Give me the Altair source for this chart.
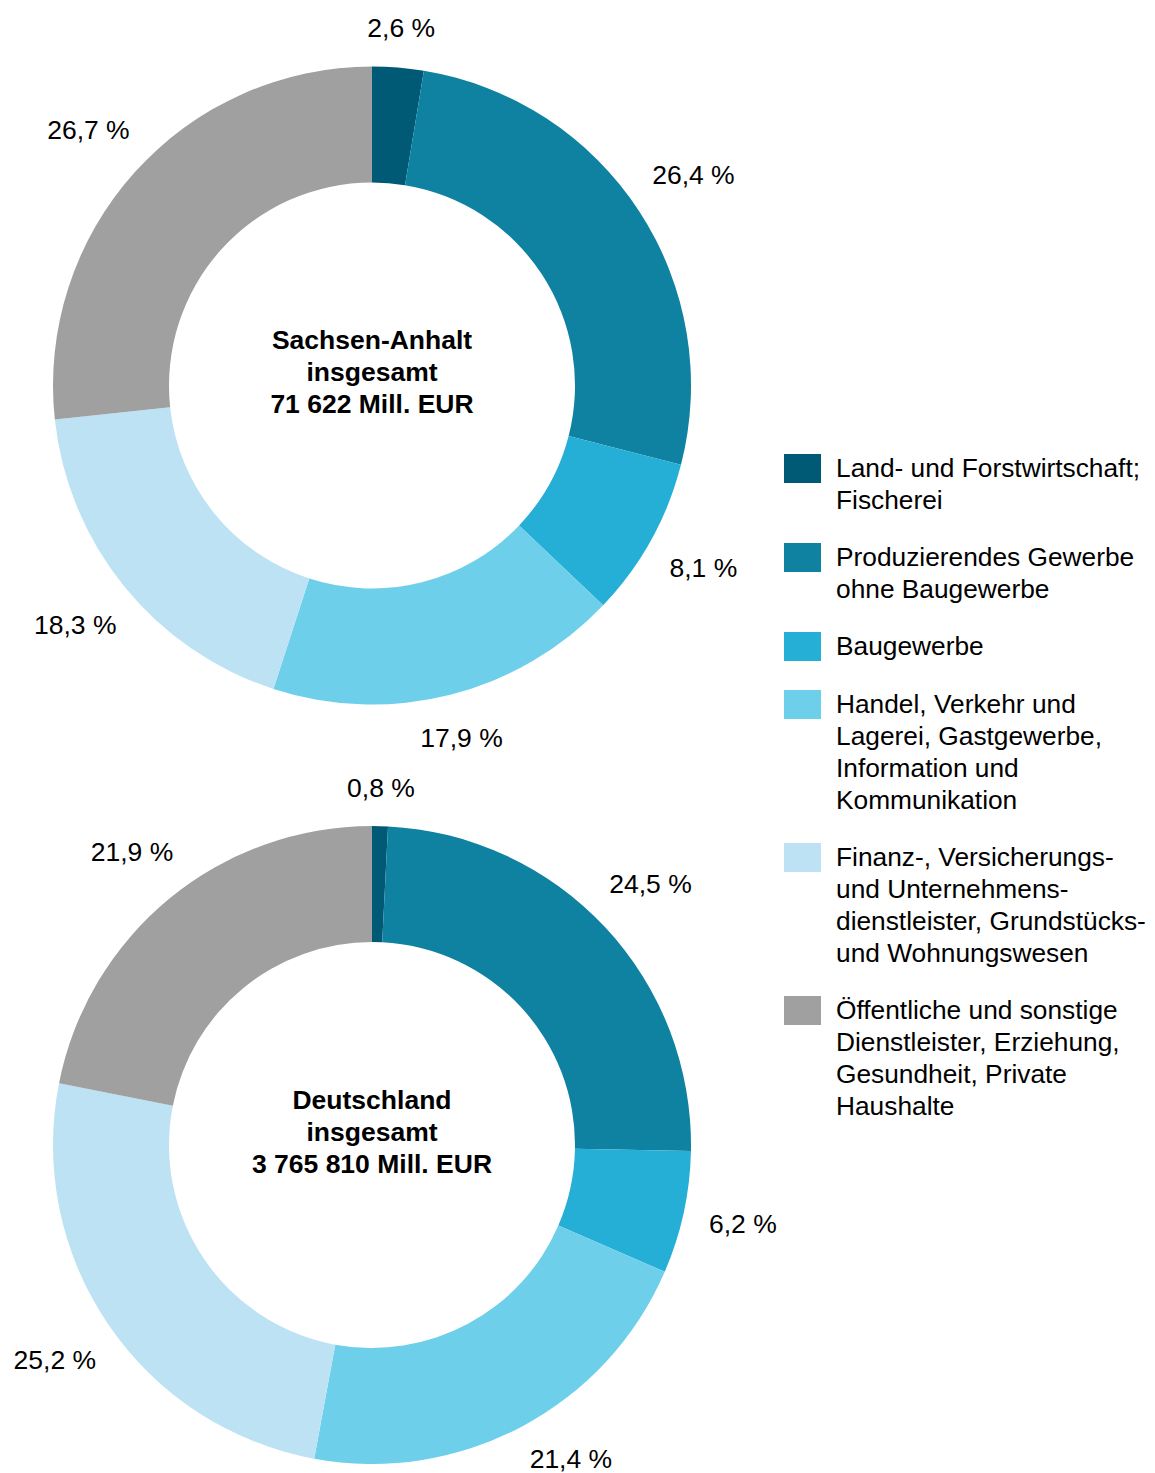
import altair as alt
import pandas as pd

sectors = [
    "Land- und Forstwirtschaft;|Fischerei",
    "Produzierendes Gewerbe|ohne Baugewerbe",
    "Baugewerbe",
    "Handel, Verkehr und|Lagerei, Gastgewerbe,|Information und|Kommunikation",
    "Finanz-, Versicherungs-|und Unternehmens-|dienstleister, Grundstücks-|und Wohnungswesen",
    "Öffentliche und sonstige|Dienstleister, Erziehung,|Gesundheit, Private|Haushalte",
]
colors = ["#005a76", "#0e82a0", "#25afd6", "#6ecfea", "#bde2f4", "#a0a0a0"]
sa_values = [2.6, 26.4, 8.1, 17.9, 18.3, 26.7]
de_values = [0.8, 24.5, 6.2, 21.4, 25.2, 21.9]
totals = [
    "Sachsen-Anhalt|insgesamt|71 622 Mill. EUR",
    "Deutschland|insgesamt|3 765 810 Mill. EUR",
]

FONT = "Liberation Sans"
FS = 26.5
LFS = 26.3
W, H = 1139, 1465
CX = 364
CY_TOP = 377.5
CY_BOT = 1137
R_OUT, R_IN = 319, 203
GAP = 26
Y_LIMIT = 1452


def fmt(v):
    return f"{v:.1f}".replace(".", ",") + " %"


legend = alt.Legend(
    title=None,
    orient="none",
    legendX=776,
    legendY=429,
    labelExpr="split(datum.label, '|')",
    labelFont=FONT,
    labelFontSize=LFS,
    labelColor="#000000",
    labelLimit=0,
    labelOffset=15,
    labelBaseline="top",
    symbolType="M-1,-0.08H1V1.486H-1Z",
    symbolSize=1369,
    symbolStrokeWidth=0,
    symbolOpacity=1,
    rowPadding=12,
    padding=0,
)


def donut(values, cy):
    df = pd.DataFrame({
        "sector": sectors,
        "idx": list(range(len(sectors))),
        "value": values,
        "label": [fmt(v) for v in values],
    })
    arc = alt.Chart(df).mark_arc(innerRadius=R_IN, outerRadius=R_OUT).encode(
        theta=alt.Theta("value:Q", stack=True),
        order=alt.Order("idx:Q"),
        color=alt.Color("sector:N", scale=alt.Scale(domain=sectors, range=colors), legend=legend),
        x=alt.value(CX),
        y=alt.value(cy),
    )
    lab = alt.Chart(df).transform_window(
        cum="sum(value)",
        sort=[alt.SortField("idx", order="ascending")],
        frame=[None, 0],
    ).transform_joinaggregate(
        total="sum(value)"
    ).transform_calculate(
        a="2 * PI * (datum.cum - datum.value / 2) / datum.total",
        hw=f"length(datum.label) * {FS * 0.25}",
    ).transform_calculate(
        r=f"{R_OUT} + {GAP} + abs(sin(datum.a)) * datum.hw + abs(cos(datum.a)) * 10"
    ).transform_calculate(
        # rotate a label toward the side if it would leave the picture at the bottom
        a2=(
            f"({cy} - datum.r * cos(datum.a) > {Y_LIMIT}) ? "
            f"(datum.a < PI ? acos(({cy} - {Y_LIMIT}) / datum.r) "
            f": 2 * PI - acos(({cy} - {Y_LIMIT}) / datum.r)) : datum.a"
        )
    ).transform_calculate(
        lx=f"{CX} + datum.r * sin(datum.a2)",
        ly=f"{cy} - datum.r * cos(datum.a2)",
    ).mark_text(
        font=FONT, fontSize=FS, color="#000000", align="center", baseline="middle"
    ).encode(
        text="label:N",
        x=alt.X("lx:Q", scale=None, axis=None),
        y=alt.Y("ly:Q", scale=None, axis=None),
    )
    return arc, lab


def center(text, cy):
    df = pd.DataFrame({"t": [text]})
    return alt.Chart(df).transform_calculate(
        lines="split(datum.t, '|')"
    ).mark_text(
        font=FONT, fontSize=FS, fontWeight="bold", lineHeight=32,
        baseline="middle", align="center", color="#000000",
    ).encode(text="lines:N", x=alt.value(CX), y=alt.value(cy))


a1, l1 = donut(sa_values, CY_TOP)
a2, l2 = donut(de_values, CY_BOT)
c1 = center(totals[0], CY_TOP - 44.5)
c2 = center(totals[1], CY_BOT - 44)

chart = alt.layer(a1, a2, l1, l2, c1, c2).properties(
    width=W, height=H, autosize="none", padding=0
).configure(
    view=alt.ViewConfig(stroke=None),
    style={"guide-label": {"lineHeight": 32}, "cell": {"stroke": "transparent"}},
)

chart.save("out.html", embed_options={"renderer": "svg", "actions": False})
